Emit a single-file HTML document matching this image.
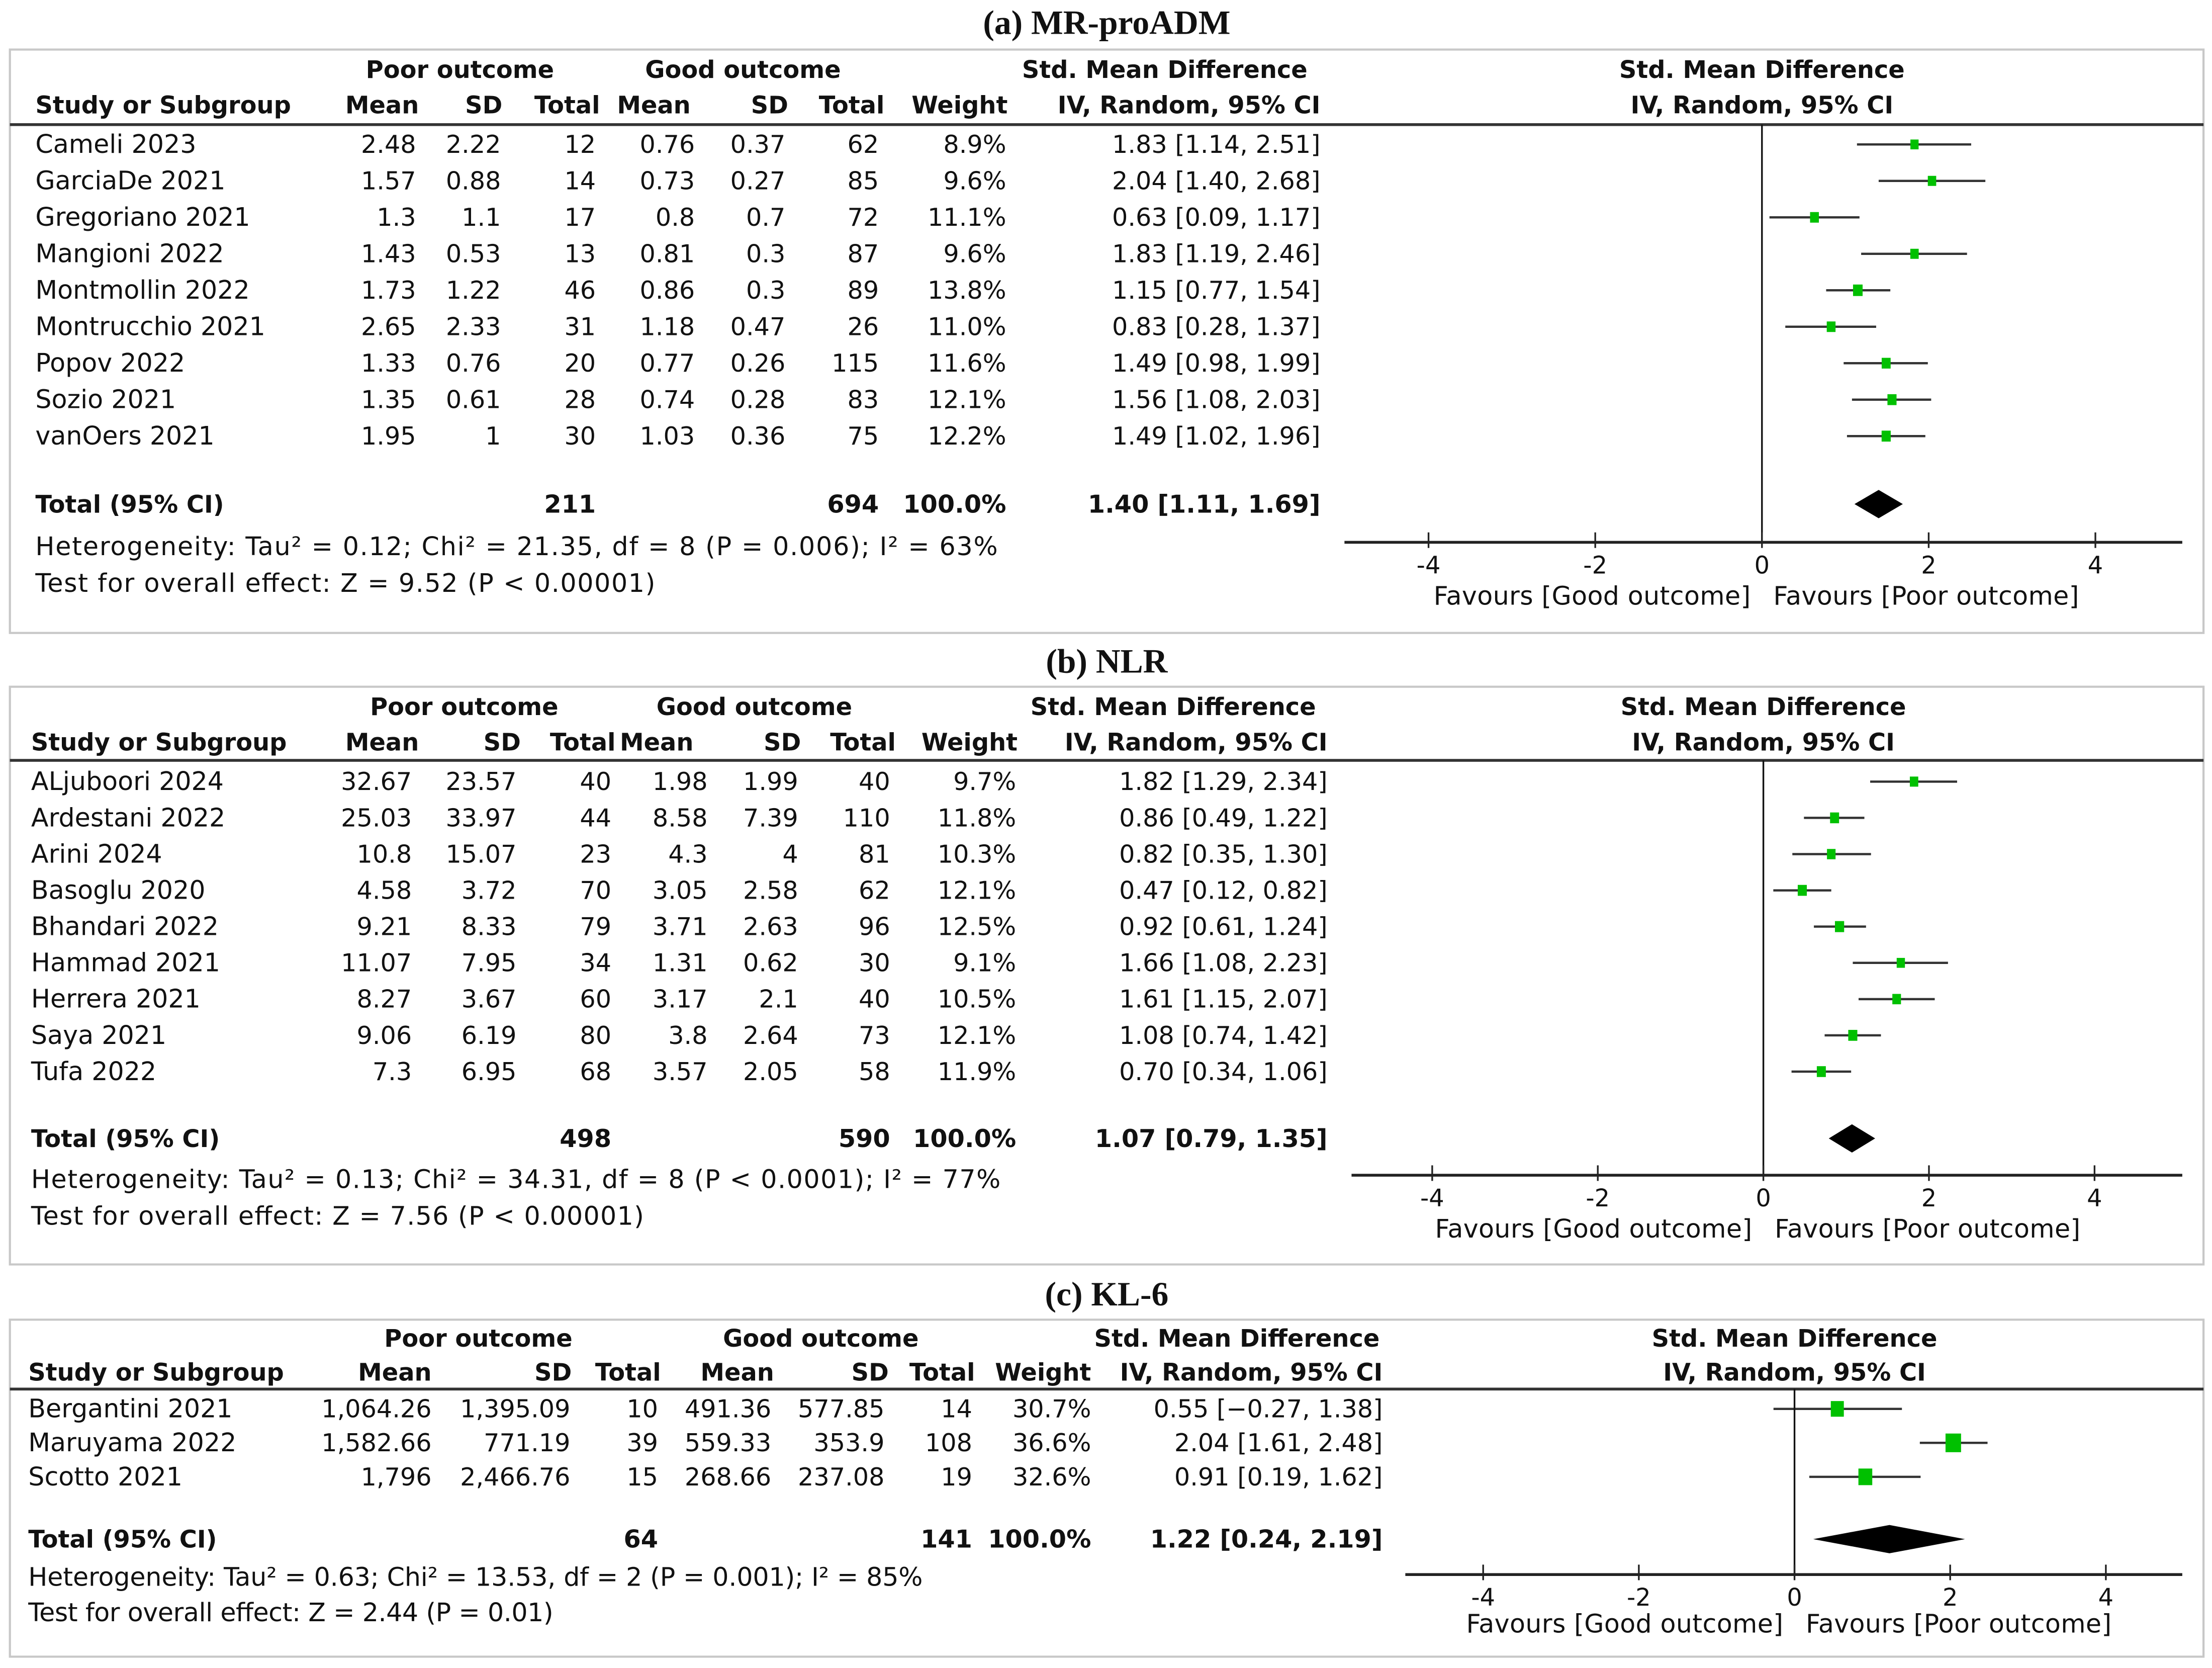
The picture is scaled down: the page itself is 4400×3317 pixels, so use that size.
<!DOCTYPE html>
<html><head><meta charset="utf-8"><style>
html,body{margin:0;padding:0;background:#fff;}
svg{display:block;}
text{font-family:"DejaVu Sans","Liberation Sans",sans-serif;fill:#111;}
.t{font-family:"Liberation Serif",serif;font-weight:bold;font-size:24px;}
</style></head><body>
<svg id="s" xmlns="http://www.w3.org/2000/svg" width="4400" height="3317" viewBox="0 0 1563 1178" preserveAspectRatio="none"></svg>
<script>
// Panel A data
const studiesA=["Cameli 2023","GarciaDe 2021","Gregoriano 2021","Mangioni 2022","Montmollin 2022","Montrucchio 2021","Popov 2022","Sozio 2021","vanOers 2021"];
const poorMeanA=["2.48","1.57","1.3","1.43","1.73","2.65","1.33","1.35","1.95"];
const poorSdA=["2.22","0.88","1.1","0.53","1.22","2.33","0.76","0.61","1"];
const poorNA=["12","14","17","13","46","31","20","28","30"];
const goodMeanA=["0.76","0.73","0.8","0.81","0.86","1.18","0.77","0.74","1.03"];
const goodSdA=["0.37","0.27","0.7","0.3","0.3","0.47","0.26","0.28","0.36"];
const goodNA=["62","85","72","87","89","26","115","83","75"];
const weightA=[8.9,9.6,11.1,9.6,13.8,11.0,11.6,12.1,12.2];
const smdA=[1.83,2.04,0.63,1.83,1.15,0.83,1.49,1.56,1.49];
const loA=[1.14,1.40,0.09,1.19,0.77,0.28,0.98,1.08,1.02];
const hiA=[2.51,2.68,1.17,2.46,1.54,1.37,1.99,2.03,1.96];
const totalA=[1.40,1.11,1.69];
// Panel B data
const studiesB=["ALjuboori 2024","Ardestani 2022","Arini 2024","Basoglu 2020","Bhandari 2022","Hammad 2021","Herrera 2021","Saya 2021","Tufa 2022"];
const poorMeanB=["32.67","25.03","10.8","4.58","9.21","11.07","8.27","9.06","7.3"];
const poorSdB=["23.57","33.97","15.07","3.72","8.33","7.95","3.67","6.19","6.95"];
const poorNB=["40","44","23","70","79","34","60","80","68"];
const goodMeanB=["1.98","8.58","4.3","3.05","3.71","1.31","3.17","3.8","3.57"];
const goodSdB=["1.99","7.39","4","2.58","2.63","0.62","2.1","2.64","2.05"];
const goodNB=["40","110","81","62","96","30","40","73","58"];
const weightB=[9.7,11.8,10.3,12.1,12.5,9.1,10.5,12.1,11.9];
const smdB=[1.82,0.86,0.82,0.47,0.92,1.66,1.61,1.08,0.70];
const loB=[1.29,0.49,0.35,0.12,0.61,1.08,1.15,0.74,0.34];
const hiB=[2.34,1.22,1.30,0.82,1.24,2.23,2.07,1.42,1.06];
const totalB=[1.07,0.79,1.35];
// Panel C data
const studiesC=["Bergantini 2021","Maruyama 2022","Scotto 2021"];
const poorMeanC=["1,064.26","1,582.66","1,796"];
const poorSdC=["1,395.09","771.19","2,466.76"];
const poorNC=["10","39","15"];
const goodMeanC=["491.36","559.33","268.66"];
const goodSdC=["577.85","353.9","237.08"];
const goodNC=["14","108","19"];
const weightC=[30.7,36.6,32.6];
const smdC=[0.55,2.04,0.91];
const loC=[-0.27,1.61,0.19];
const hiC=[1.38,2.48,1.62];
const totalC=[1.22,0.24,2.19];
const ticks=[-4,-2,0,2,4];

const S=document.getElementById('s');const NS="http://www.w3.org/2000/svg";
const FS=18, VS=17.5, HS=17;
function el(tag,attrs,txt){const e=document.createElementNS(NS,tag);for(const k in attrs)e.setAttribute(k,attrs[k]);if(txt!==undefined)e.textContent=txt;S.appendChild(e);return e;}
function tx(x,y,s,anchor,bold,size){return el('text',{x:x,y:y,'text-anchor':anchor||'start','font-size':size||FS,'font-weight':bold?'bold':'normal'},s);}
function tl(x,y,s,len,anchor){return el('text',{x:x,y:y,'text-anchor':anchor||'start','font-size':FS,textLength:len,lengthAdjust:'spacing'},s);}
function f2(v){return (v<0?'−':'')+Math.abs(v).toFixed(2);}

function panel(P){
  let e=el('text',{x:782,y:P.titleY,'text-anchor':'middle',class:'t'},P.title);
  
  e=el('rect',{x:P.boxX,y:P.boxTop,width:1557-P.boxX,height:P.boxBot-P.boxTop,fill:'none',stroke:'#c8c8c8','stroke-width':1.5});
  
  const C=P.cols,H=P.hcols;
  e=tx(P.poorC,P.h1,'Poor outcome','middle',true,HS);
  e=tx(P.goodC,P.h1,'Good outcome','middle',true,HS);
  e=tx(P.smdC,P.h1,'Std. Mean Difference','middle',true,HS);
  e=tx(P.zero,P.h1,'Std. Mean Difference','middle',true,HS);
  e=tx(P.studyX,P.h2,'Study or Subgroup','start',true,HS);
  const hd=['Mean','SD','Total','Mean','SD','Total','Weight','IV, Random, 95% CI'];
  hd.forEach((h,i)=>{const t=tx(H[i],P.h2,h,'end',true,HS);});
  e=tx(P.zero,P.h2,'IV, Random, 95% CI','middle',true,HS);
  e=el('line',{x1:P.boxX,x2:1557,y1:P.line,y2:P.line,stroke:'#333','stroke-width':2});
  
  const X=v=>P.zero+v*P.unit;
  const D=P.d;
  D.studies.forEach((s,i)=>{
    const y=P.r0+i*P.step;
    const vals=[D.pm[i],D.ps[i],D.pn[i],D.gm[i],D.gs[i],D.gn[i],D.w[i].toFixed(1)+'%',D.smd[i].toFixed(2)+' ['+f2(D.lo[i])+', '+f2(D.hi[i])+']'];
    let t=tx(P.studyX,y+6,s);
    vals.forEach((v,j)=>{const c=tx(C[j],y+6,v,'end',false,VS);});
    const l=el('line',{x1:X(D.lo[i]),x2:X(D.hi[i]),y1:y,y2:y,stroke:'#333','stroke-width':1.6});
    
    const sz=P.sq(D.w[i]);
    const r=el('rect',{x:X(D.smd[i])-sz/2,y:y-sz*0.6,width:sz,height:sz*1.2,fill:'#00c000'});
    
  });
  const T=D.tot;
  let t=tx(P.studyX,P.tY+6,'Total (95% CI)','start',true,HS);
  [[2,P.totP],[5,P.totG],[6,'100.0%'],[7,T[0].toFixed(2)+' ['+f2(T[1])+', '+f2(T[2])+']']].forEach(a=>{const c=tx(C[a[0]],P.tY+6,a[1],'end',true,VS);});
  const dm=el('polygon',{points:`${X(T[1])},${P.tY} ${X(T[0])},${P.tY-10} ${X(T[2])},${P.tY} ${X(T[0])},${P.tY+10}`,fill:'#000'});
  
  t=tl(P.studyX,P.hetY,P.het,P.hetW);
  t=tl(P.studyX,P.testY,P.test,P.testW);
  let a=el('line',{x1:P.zero,x2:P.zero,y1:P.line,y2:P.axY,stroke:'#111','stroke-width':1.2});
  a=el('line',{x1:P.axL,x2:1542,y1:P.axY,y2:P.axY,stroke:'#222','stroke-width':2});
  ticks.forEach(v=>{
    const k=el('line',{x1:X(v),x2:X(v),y1:P.axY-7,y2:P.axY+4,stroke:'#222','stroke-width':1.2});
    const l=tx(X(v),P.axY+22,(v<0?'-':'')+Math.abs(v),'middle',false,17);
  });
  t=tl(P.zero-8,P.favY,'Favours [Good outcome]',224,'end');
  t=tl(P.zero+8,P.favY,'Favours [Poor outcome]',216,'start');
}
const sqSmall=w=>4+w*0.2;
panel({key:'panel-a',title:'(a) MR-proADM',titleY:24,boxX:7,boxTop:35,boxBot:447,h1:55,h2:80,line:88,
 cols:[294,354,421,491,555,621,711,933],hcols:[296,355,424,488,557,625,712,933],poorC:325,goodC:525,smdC:823,
 studyX:25,r0:102,step:25.75,tY:356,hetY:392,testY:418,hetW:680,testW:438,
 zero:1245,unit:58.9,axY:383,axL:950,favY:427,totP:'211',totG:'694',sq:sqSmall,
 het:'Heterogeneity: Tau² = 0.12; Chi² = 21.35, df = 8 (P = 0.006); I² = 63%',test:'Test for overall effect: Z = 9.52 (P < 0.00001)',
 d:{studies:studiesA,pm:poorMeanA,ps:poorSdA,pn:poorNA,gm:goodMeanA,gs:goodSdA,gn:goodNA,w:weightA,smd:smdA,lo:loA,hi:hiA,tot:totalA}});
panel({key:'panel-b',title:'(b) NLR',titleY:475,boxX:7,boxTop:485,boxBot:893,h1:505,h2:530,line:537,
 cols:[291,365,432,500,564,629,718,938],hcols:[296,368,435,490,566,633,719,938],poorC:328,goodC:533,smdC:829,
 studyX:22,r0:552,step:25.6,tY:804,hetY:839,testY:865,hetW:685,testW:433,
 zero:1246,unit:58.5,axY:830,axL:955,favY:874,totP:'498',totG:'590',sq:sqSmall,
 het:'Heterogeneity: Tau² = 0.13; Chi² = 34.31, df = 8 (P < 0.0001); I² = 77%',test:'Test for overall effect: Z = 7.56 (P < 0.00001)',
 d:{studies:studiesB,pm:poorMeanB,ps:poorSdB,pn:poorNB,gm:goodMeanB,gs:goodSdB,gn:goodNB,w:weightB,smd:smdB,lo:loB,hi:hiB,tot:totalB}});
panel({key:'panel-c',title:'(c) KL-6',titleY:922,boxX:7,boxTop:932,boxBot:1170,h1:951,h2:975,line:981,
 cols:[305,403,465,545,625,687,771,977],hcols:[305,404,467,547,628,689,771,977],poorC:338,goodC:580,smdC:874,
 studyX:20,r0:995,step:24,tY:1087,hetY:1120,testY:1145,hetW:632,testW:371,
 zero:1268,unit:55,axY:1112,axL:993,favY:1153,totP:'64',totG:'141',sq:w=>w*0.3,
 het:'Heterogeneity: Tau² = 0.63; Chi² = 13.53, df = 2 (P = 0.001); I² = 85%',test:'Test for overall effect: Z = 2.44 (P = 0.01)',
 d:{studies:studiesC,pm:poorMeanC,ps:poorSdC,pn:poorNC,gm:goodMeanC,gs:goodSdC,gn:goodNC,w:weightC,smd:smdC,lo:loC,hi:hiC,tot:totalC}});
</script>
</body></html>
